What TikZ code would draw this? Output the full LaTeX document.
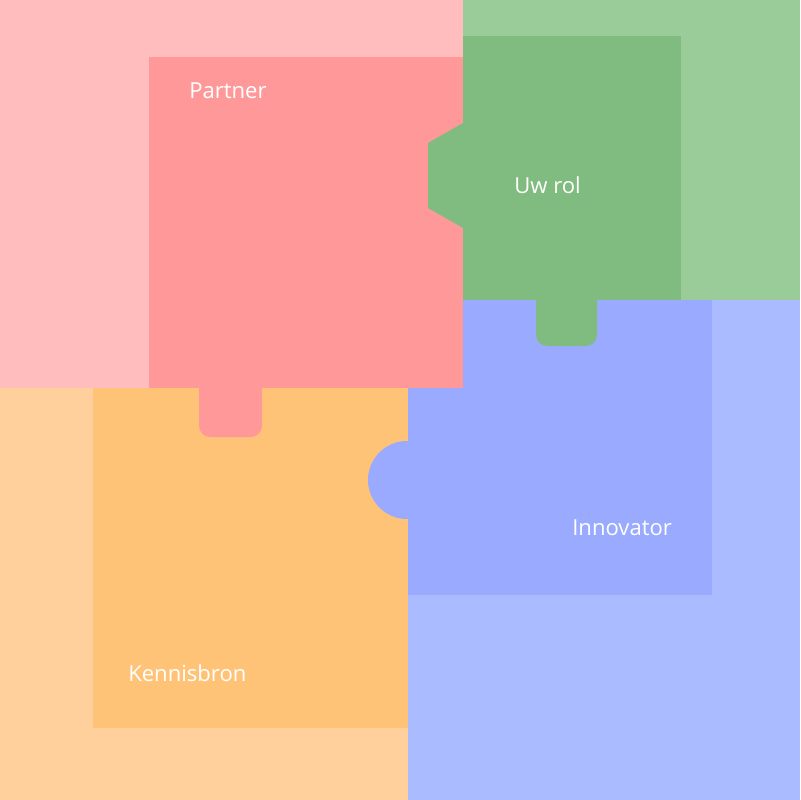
\documentclass[tikz,border=0pt]{standalone}
\usepackage{fontspec}
\setmainfont{Open Sans}
\usepackage{tikz}
\definecolor{pinkbg}{HTML}{FFBDBD}
\definecolor{pinkin}{HTML}{FF9999}
\definecolor{greenbg}{HTML}{99CC99}
\definecolor{greenin}{HTML}{80BB80}
\definecolor{bluebg}{HTML}{AABBFF}
\definecolor{bluein}{HTML}{99AAFF}
\definecolor{orangebg}{HTML}{FFD09C}
\definecolor{orangein}{HTML}{FFC377}
\begin{document}
\begin{tikzpicture}[x=0.025cm, y=-0.025cm,
  lbl/.style={text=white, font=\fontsize{15.7}{18}\selectfont, anchor=west, inner sep=0pt},
  tab/.style={rounded corners=8pt}
]
  \useasboundingbox (0,0) rectangle (800,800);
  % background quarters
  \fill[pinkbg] (0,0) rectangle (463,388);
  \fill[greenbg] (463,0) rectangle (800,300);
  \fill[orangebg] (0,388) rectangle (408,800);
  \fill[bluebg] (408,300) rectangle (800,800);
  % puzzle pieces
  \fill[orangein] (93,388) rectangle (408,728);
  \fill[bluein] (408,300) rectangle (712,595);
  \fill[bluein] (407,480) circle (39);
  \fill[pinkin] (149,57) rectangle (463,388);
  \fill[pinkin, tab] (199,370) rectangle (262,437);
  \fill[greenin] (463,36) rectangle (681,300);
  \fill[greenin] (463,123) -- (428,143) -- (428,208) -- (463,228) -- cycle;
  \fill[greenin, tab] (536,280) rectangle (597,346);
  % labels
  \node[lbl] (partner) at (189,91) {Partner};
  \node[lbl] (rol) at (514,185) {Uw rol};
  \node[lbl] (innovator) at (572,528) {Innovator};
  \node[lbl] (kennisbron) at (128,673) {Kennisbron};
\end{tikzpicture}
\end{document}
